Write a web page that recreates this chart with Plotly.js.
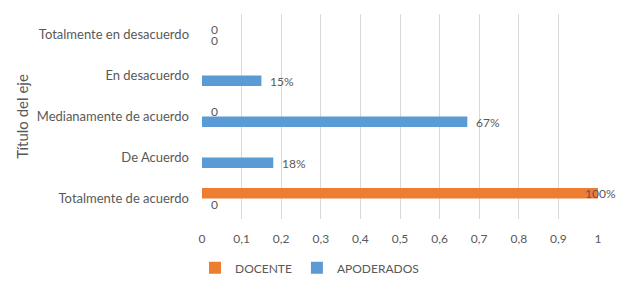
<!DOCTYPE html>
<html>
<head>
<meta charset="utf-8">
<script src="https://cdn.plot.ly/plotly-3.0.1.min.js"></script>
<style>html,body{margin:0;padding:0;background:#fff;}#chart{width:619px;height:288px;}</style>
</head>
<body>
<div id="chart"></div>
<script>
const categories = ["Totalmente de acuerdo", "De Acuerdo", "Medianamente de acuerdo", "En desacuerdo", "Totalmente en desacuerdo"];
const docente = [1, null, 0, null, 0];
const apoderados = [0, 0.18, 0.67, 0.15, 0];
const xTickVals = [0, 0.1, 0.2, 0.3, 0.4, 0.5, 0.6, 0.7, 0.8, 0.9, 1];
const axisTitle = "Título del eje";

const orange = "#ED7D31", blue = "#5B9BD5", textCol = "#595959";
const fontFam = "Lato, 'Open Sans', sans-serif";

function lbl(v){ return v === 0 ? "0" : Math.round(v*100) + "%"; }

const traces = [
  {type:"bar", orientation:"h", name:"APODERADOS", y:categories, x:apoderados, marker:{color:blue}, hoverinfo:"none"},
  {type:"bar", orientation:"h", name:"DOCENTE", y:categories, x:docente, marker:{color:orange}, hoverinfo:"none"}
];

const annotations = [];
function addLabels(vals, yshift){
  vals.forEach((v,i)=>{
    if (v === null) return;
    const big = v >= 0.95;
    annotations.push({x:v, y:categories[i], xref:"x", yref:"y", text:lbl(v), showarrow:false,
      xanchor: big ? "center" : "left", xshift: big ? 2 : 7, yshift:yshift,
      font:{family:fontFam, size:12, color:textCol}});
  });
}
addLabels(apoderados, -5.5);
addLabels(docente, 5.5);

const layout = {
  width:619, height:288,
  margin:{l:202, r:21, t:14, b:69, autoexpand:false},
  paper_bgcolor:"#fff", plot_bgcolor:"#fff",
  separators:",.",
  barmode:"group", bargap:0.49, bargroupgap:0,
  font:{family:fontFam, color:textCol, size:12},
  xaxis:{range:[0,1], tickvals:xTickVals, showgrid:true, gridcolor:"#d9d9d9", gridwidth:1,
         zeroline:false, showline:false, ticks:"", ticklabelstandoff:11, automargin:false,
         tickfont:{family:fontFam, size:12, color:textCol}, fixedrange:true},
  yaxis:{type:"category", categoryorder:"array", categoryarray:categories, showgrid:false,
         zeroline:false, showline:false, ticks:"", ticklabelstandoff:12, automargin:false,
         tickfont:{family:fontFam, size:13, color:textCol},
         title:{text:axisTitle, font:{family:fontFam, size:15, color:textCol}, standoff:4}},
  showlegend:true,
  legend:{orientation:"h", x:0.5, xanchor:"center", xref:"container", yref:"container", y:0.07, yanchor:"middle",
          traceorder:"reversed", itemwidth:30, font:{family:fontFam, size:12, color:textCol}},
  annotations:annotations
};

Plotly.newPlot("chart", traces, layout, {staticPlot:true, displayModeBar:false});
</script>
</body>
</html>
